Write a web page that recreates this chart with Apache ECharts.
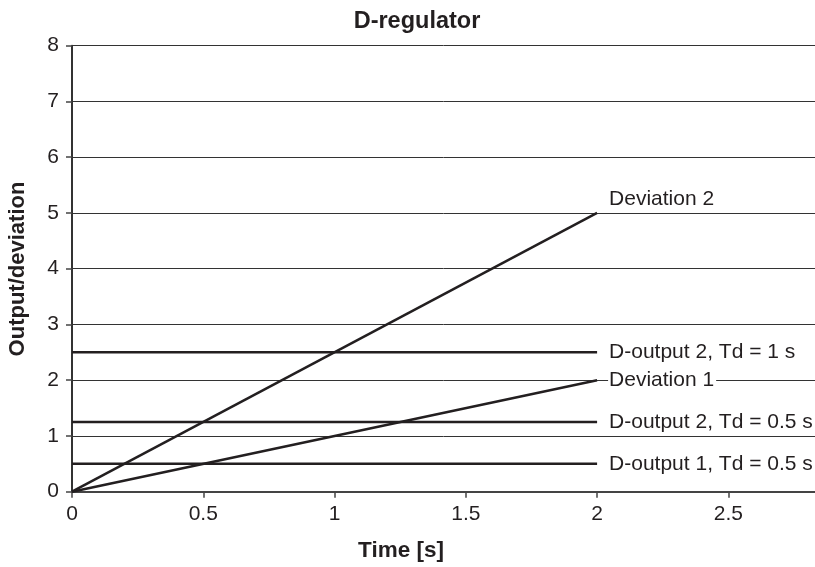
<!DOCTYPE html>
<html>
<head>
<meta charset="utf-8">
<script src="https://cdn.jsdelivr.net/npm/echarts@6/dist/echarts.min.js"></script>
<style>
  html, body { margin: 0; padding: 0; background: #fff; }
  #chart { width: 815px; height: 567px; }
</style>
</head>
<body>
<div id="chart"></div>
<script>
// Time points (s) at which each trace is sampled
const time = [0, 2];

// Deviation ramps and the corresponding D-controller outputs
const deviation1 = [0, 2];
const deviation2 = [0, 5];
const dOutput1Td05 = [0.5, 0.5];
const dOutput2Td05 = [1.25, 1.25];
const dOutput2Td1 = [2.5, 2.5];

// Series names, drawn as end labels
const seriesNames = [
  'Deviation 2',
  'Deviation 1',
  'D-output 2, Td = 1 s',
  'D-output 2, Td = 0.5 s',
  'D-output 1, Td = 0.5 s'
];

// Axis tick values
const xTicks = [0, 0.5, 1, 1.5, 2, 2.5];
const yTicks = [0, 1, 2, 3, 4, 5, 6, 7, 8];

const FONT = "'Liberation Sans', Arial, Helvetica, sans-serif";
const INK = '#231f20';

function pairs(ys) {
  return time.map((t, i) => [t, ys[i]]);
}

function traceSeries(name, ys, labelOffset) {
  return {
    name: name,
    type: 'line',
    data: pairs(ys),
    symbol: 'none',
    animation: false,
    lineStyle: { color: INK, width: 2.5 },
    z: 3,
    endLabel: {
      show: true,
      formatter: name,
      color: INK,
      fontFamily: FONT,
      fontSize: 21,
      distance: 11,
      offset: labelOffset || [0, 0],
      backgroundColor: '#fff',
      padding: [0, 2, 0, 1]
    }
  };
}

const chart = echarts.init(document.getElementById('chart'), null, { renderer: 'canvas' });

chart.setOption({
  backgroundColor: '#fff',
  animation: false,
  title: [
    {
      text: 'D-regulator',
      left: 412, top: 5, textAlign: 'center',
      textStyle: { fontFamily: FONT, fontWeight: 'bold', fontSize: 23.5, color: INK }
    }
  ],
  grid: { left: 72, right: 0, top: 45.7, bottom: 75.3, containLabel: false },
  xAxis: {
    type: 'value',
    min: 0,
    max: 2.83,
    interval: 0.5,
    axisLine: { show: true, onZero: false, lineStyle: { color: '#444', width: 2 } },
    axisTick: { show: true, length: 6, customValues: xTicks, lineStyle: { color: '#444', width: 1.5 } },
    axisLabel: {
      customValues: xTicks,
      margin: 12,
      fontFamily: FONT, fontSize: 21, color: INK,
      formatter: v => String(v)
    },
    splitLine: { show: false }
  },
  yAxis: {
    type: 'value',
    min: 0,
    max: 8,
    interval: 1,
    axisLine: { show: true, lineStyle: { color: '#333', width: 2 } },
    axisTick: { show: true, length: 6, customValues: yTicks, lineStyle: { color: '#444', width: 1.5 } },
    axisLabel: {
      customValues: yTicks,
      margin: 13,
      fontFamily: FONT, fontSize: 21, color: INK
    },
    splitLine: { show: true, lineStyle: { color: '#333', width: 1 } }
  },
  graphic: [
    {
      type: 'text',
      x: 18, y: 269,
      rotation: Math.PI / 2,
      style: {
        text: 'Output/deviation',
        fontFamily: FONT, fontWeight: 'bold', fontSize: 22,
        fill: INK, align: 'center', verticalAlign: 'middle'
      }
    },
    {
      type: 'text',
      x: 401, y: 551,
      style: {
        text: 'Time [s]',
        fontFamily: FONT, fontWeight: 'bold', fontSize: 22.5,
        fill: INK, align: 'center', verticalAlign: 'middle'
      }
    }
  ],
  series: [
    traceSeries(seriesNames[0], deviation2, [0, -14]),
    traceSeries(seriesNames[1], deviation1),
    traceSeries(seriesNames[2], dOutput2Td1),
    traceSeries(seriesNames[3], dOutput2Td05),
    traceSeries(seriesNames[4], dOutput1Td05)
  ]
});
</script>
</body>
</html>
